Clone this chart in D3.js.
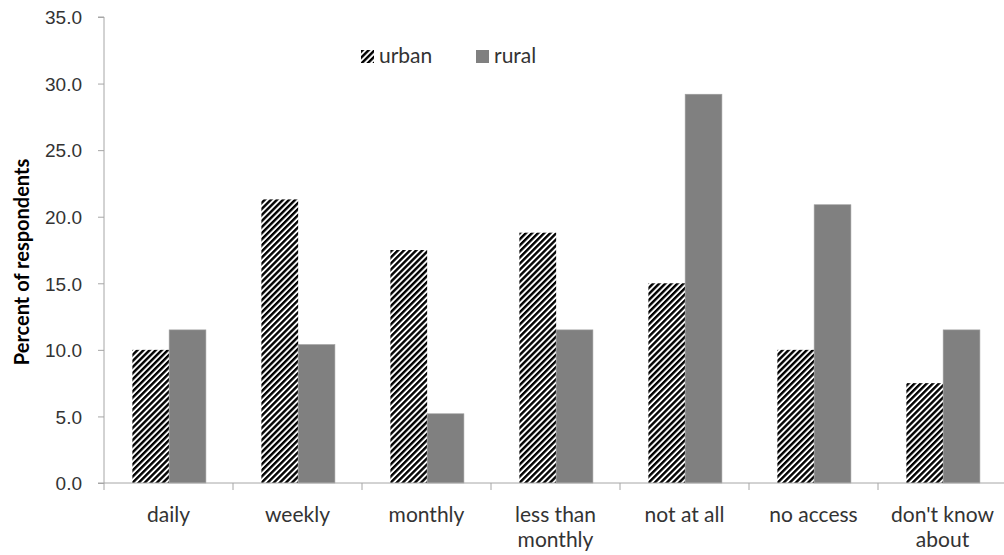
<!DOCTYPE html>
<html lang="en">
<head>
  <meta charset="UTF-8">
  <title>Percent of respondents: urban vs rural</title>
  <script src="https://d3js.org/d3.v7.min.js"></script>
  <style>
    body { margin: 0; padding: 0; background: #fff; }
    svg { display: block; font-family: Lato, "Open Sans", sans-serif; }
    .tick text { fill: #333; font-size: 19px; }
  </style>
</head>
<body>
  <div id="chart"></div>
  <script>
    // data
    const categories = ["daily", "weekly", "monthly", "less than\nmonthly", "not at all", "no access", "don't know\nabout"];
    const urban = [10.0, 21.3, 17.5, 18.8, 15.0, 10.0, 7.5];
    const rural = [11.5, 10.4, 5.2, 11.5, 29.2, 20.9, 11.5];
    const seriesNames = ["urban", "rural"];
    const yTicks = [0, 5, 10, 15, 20, 25, 30, 35];

    // dimensions
    const W = 1004, H = 555;
    const margin = { top: 17, right: -3, bottom: 72, left: 104 };
    const width = W - margin.left - margin.right;
    const height = H - margin.top - margin.bottom;

    const svg = d3.select("#chart").append("svg")
      .attr("width", W).attr("height", H);

    // hatch pattern for urban
    const defs = svg.append("defs");
    defs.append("pattern")
      .attr("id", "hatch")
      .attr("patternUnits", "userSpaceOnUse")
      .attr("width", 4.3).attr("height", 4.3)
      .attr("patternTransform", "rotate(45)")
      .call(p => {
        p.append("rect").attr("width", 4.3).attr("height", 4.3).attr("fill", "#fff");
        p.append("rect").attr("width", 2.4).attr("height", 4.3).attr("fill", "#000");
      });

    const g = svg.append("g").attr("transform", `translate(${margin.left},${margin.top})`);

    const x = d3.scaleBand().domain(categories).range([0, width]).paddingInner(0).paddingOuter(0);
    const x1 = d3.scaleBand().domain(seriesNames).range([x.bandwidth() * 0.22, x.bandwidth() * 0.79]);
    const y = d3.scaleLinear().domain([0, 35]).range([height, 0]);

    const fills = { urban: "url(#hatch)", rural: "#808080" };

    // bars
    const rows = categories.map((c, i) => ({ cat: c, urban: urban[i], rural: rural[i] }));
    const grp = g.append("g").selectAll("g").data(rows).join("g")
      .attr("transform", d => `translate(${x(d.cat)},0)`);
    grp.selectAll("rect")
      .data(d => seriesNames.map(s => ({ s, v: d[s] })))
      .join("rect")
        .attr("x", d => x1(d.s))
        .attr("width", x1.bandwidth())
        .attr("y", d => y(d.v))
        .attr("height", d => y(0) - y(d.v))
        .attr("fill", d => fills[d.s])
        .attr("stroke", d => d.s === "rural" ? "#a0a0a0" : "none")
        .attr("stroke-width", 0.6);

    // y axis
    const yAxis = g.append("g")
      .call(d3.axisLeft(y).tickValues(yTicks).tickSize(6).tickPadding(16).tickFormat(d3.format(".1f")));
    yAxis.select(".domain").attr("stroke", "#a6a6a6").attr("d", `M-6,${height}H0V0H-6`);
    yAxis.selectAll(".tick line").attr("stroke", "#a6a6a6");
    yAxis.selectAll(".tick text").attr("dy", "0.36em");

    // x axis with ticks at band boundaries
    const xAxis = g.append("g").attr("transform", `translate(0,${height})`);
    xAxis.append("line").attr("x1", 0).attr("x2", width).attr("stroke", "#a6a6a6");
    xAxis.selectAll("line.tk")
      .data(d3.range(categories.length + 1))
      .join("line").attr("class", "tk")
        .attr("x1", i => i * x.step()).attr("x2", i => i * x.step())
        .attr("y1", 0).attr("y2", 7).attr("stroke", "#a6a6a6");
    xAxis.selectAll("text")
      .data(categories)
      .join("text")
        .attr("text-anchor", "middle")
        .attr("fill", "#333")
        .style("font-size", "21px")
        .attr("transform", d => `translate(${x(d) + x.bandwidth() / 2},0)`)
        .each(function(d) {
          d.split("\n").forEach((line, k) => {
            d3.select(this).append("tspan")
              .attr("x", 0).attr("y", 39 + k * 25).text(line);
          });
        });

    // y label
    svg.append("text")
      .attr("transform", `translate(29,${margin.top + height / 2 + 12}) rotate(-90)`)
      .attr("text-anchor", "middle")
      .style("font-size", "20px").style("font-weight", "bold")
      .attr("fill", "#000")
      .text("Percent of respondents");

    // legend
    const legend = svg.append("g").attr("transform", "translate(361,50)");
    const items = [{ s: "urban", dx: 0 }, { s: "rural", dx: 115 }];
    const li = legend.selectAll("g").data(items).join("g")
      .attr("transform", d => `translate(${d.dx},0)`);
    li.append("rect").attr("width", 13).attr("height", 13)
      .attr("fill", d => fills[d.s]);
    li.append("text").attr("x", 18).attr("y", 13)
      .attr("fill", "#333").style("font-size", "21px")
      .text(d => d.s);
  </script>
</body>
</html>
